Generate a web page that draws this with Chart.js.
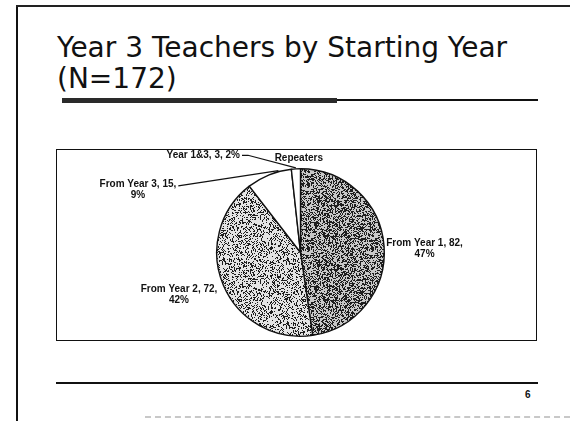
<!DOCTYPE html>
<html><head><meta charset="utf-8">
<script src="https://cdn.jsdelivr.net/npm/chart.js@4/dist/chart.umd.min.js"></script>
<style>
html,body{margin:0;padding:0;background:#fff;width:570px;height:421px;overflow:hidden;position:relative;font-family:"DejaVu Sans",sans-serif}
.abs{position:absolute}
#frameL{left:16px;top:5px;width:2px;height:416px;background:#111}
#frameT{left:16px;top:5px;width:554px;height:2px;background:#222}
#title{left:57px;top:32px;font-size:28px;line-height:31px;color:#111;white-space:nowrap}
#ulThin{left:62px;top:99px;width:476px;height:2px;background:#111}
#ulDark{left:62px;top:98px;width:275px;height:5px;background:#2a2a2a}
#box{left:56px;top:149px;width:479px;height:190px;border:1px solid #111}
#chartWrap{left:57px;top:150px;width:479px;height:190px}
#foot{left:56px;top:382px;width:482px;height:2px;background:#111}
#pg{left:525px;top:389px;font:bold 10px "Liberation Sans",sans-serif;color:#111}
#scan{left:145px;top:416px;width:425px;height:0;border-top:2px dashed #c8c8c8}
</style></head>
<body>
<div class="abs" id="frameL"></div>
<div class="abs" id="frameT"></div>
<div class="abs" id="title">Year 3 Teachers by Starting Year<br>(N=172)</div>
<div class="abs" id="ulThin"></div>
<div class="abs" id="ulDark"></div>
<div class="abs" id="box"></div>
<div class="abs" id="chartWrap"><canvas id="c" width="479" height="190"></canvas></div>
<div class="abs" id="foot"></div>
<div class="abs" id="pg">6</div>
<div class="abs" id="scan"></div>
<script>
// ---- data ----
const categories = ["From Year 1", "From Year 2", "From Year 3", "Year 1&3"];
const counts = [82, 72, 15, 3];
const percents = [47, 42, 9, 2];
const annotationText = "Repeaters";

// ---- styling ----
function hash(x, y, s) {
  let h = Math.imul(x + 374761393 * s, 668265263) ^ Math.imul(y, 2246822519);
  h = Math.imul(h ^ (h >>> 13), 3266489917);
  h ^= h >>> 16;
  return (h >>> 0) / 4294967296;
}
function texture(density, light, seed) {
  const n = 64, c = document.createElement('canvas');
  c.width = c.height = n;
  const g = c.getContext('2d'), img = g.createImageData(n, n);
  for (let y = 0; y < n; y++) for (let x = 0; x < n; x++) {
    const v = hash(x, y, seed) < density ? 30 : light;
    const i = (y * n + x) * 4;
    img.data[i] = img.data[i + 1] = img.data[i + 2] = v; img.data[i + 3] = 255;
  }
  g.putImageData(img, 0, 0);
  return document.getElementById('c').getContext('2d').createPattern(c, 'repeat');
}
const fills = [texture(0.48, 200, 1), texture(0.30, 228, 2), '#ffffff', '#ffffff'];

// label placement relative to pie centre, in units of radius
const labelPlace = [
  {dx: 1.48, dy: -0.05, lines: 2},
  {dx: -1.45, dy: 0.50, lines: 2},
  {dx: -1.94, dy: -0.76, lines: 2, leader: true, edgeAngleShift: 0.12},
  {dx: -1.16, dy: -1.16, lines: 1, leader: true, edgeAngleShift: 0}
];

const labelPlugin = {
  id: 'pieLabels',
  afterDatasetsDraw(chart) {
    const ctx = chart.ctx;
    const arcs = chart.getDatasetMeta(0).data;
    const cx = arcs[0].x, cy = arcs[0].y, r = arcs[0].outerRadius;
    ctx.save();
    ctx.fillStyle = '#111';
    ctx.strokeStyle = '#111';
    ctx.font = 'bold 10px "Liberation Sans", Arial, sans-serif';
    ctx.textAlign = 'center';
    ctx.textBaseline = 'middle';
    arcs.forEach((arc, i) => {
      const p = labelPlace[i];
      const lx = cx + p.dx * r, ly = cy + p.dy * r;
      let text1, text2 = null;
      if (p.lines === 2) {
        text1 = categories[i] + ', ' + counts[i] + ',';
        text2 = percents[i] + '%';
        ctx.fillText(text1, lx, ly - 5);
        ctx.fillText(text2, lx, ly + 6);
      } else {
        text1 = categories[i] + ', ' + counts[i] + ', ' + percents[i] + '%';
        ctx.fillText(text1, lx, ly);
      }
      if (p.leader) {
        const w = ctx.measureText(text1).width;
        const sx = lx + w / 2 + 2, sy = p.lines === 2 ? ly - 3 : ly;
        const mid = (arc.startAngle + arc.endAngle) / 2 + p.edgeAngleShift;
        const ex = cx + Math.cos(mid) * (r + 1), ey = cy + Math.sin(mid) * (r + 1);
        ctx.lineWidth = 1.2;
        ctx.beginPath();
        ctx.moveTo(sx, sy);
        if (p.lines === 1) ctx.lineTo(sx + 6, sy);
        ctx.lineTo(ex, ey);
        ctx.stroke();
      }
    });
    // annotation above the pie
    ctx.fillText(annotationText, cx - 0.02 * r, cy - 1.125 * r);
    ctx.restore();
  }
};

new Chart(document.getElementById('c'), {
  type: 'pie',
  data: {
    labels: categories,
    datasets: [{
      data: counts,
      backgroundColor: fills,
      borderColor: '#111',
      borderWidth: 1.4
    }]
  },
  options: {
    responsive: false,
    animation: false,
    layout: {padding: {top: 18, bottom: 3, left: 8, right: 0}},
    plugins: {legend: {display: false}, tooltip: {enabled: false}}
  },
  plugins: [labelPlugin]
});
</script>
</body></html>
